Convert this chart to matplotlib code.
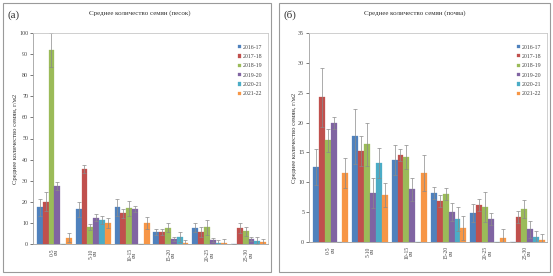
import matplotlib
matplotlib.use("Agg")
import matplotlib.pyplot as plt
import numpy as np
from matplotlib.patches import Rectangle

plt.rcParams['font.family'] = ['Liberation Serif', 'DejaVu Serif']

seasons = ["2016-17", "2017-18", "2018-19", "2019-20", "2020-21", "2021-22"]
colors = ["#4F81BD", "#C0504D", "#9BBB59", "#8064A2", "#4BACC6", "#F79646"]
categories = ["0-5\nсм", "5-10\nсм", "10-15\nсм", "15-20\nсм", "20-25\nсм", "25-30\nсм"]

# Panel (a)
a_2016 = [17.3, 16.5, 17.3, 5.7, 7.8, 0]
a_2017 = [20.1, 35.5, 14.5, 5.7, 5.7, 7.5]
a_2018 = [92.0, 8.0, 17.0, 7.8, 8.0, 6.0]
a_2019 = [27.6, 12.5, 16.7, 2.5, 1.9, 2.3]
a_2020 = [0, 11.5, 0, 3.3, 0.5, 1.6]
a_2021 = [3.0, 10.0, 10.0, 0.7, 0.3, 1.0]
a_err_2016 = [4, 3.5, 4, 1.5, 2, 0]
a_err_2017 = [4.5, 2, 2, 1.5, 2.5, 2.5]
a_err_2018 = [8, 1.5, 3.5, 2, 3.5, 2]
a_err_2019 = [2, 1.5, 1.5, 1, 1, 1]
a_err_2020 = [0, 2, 0, 2.5, 1.5, 1.5]
a_err_2021 = [2, 2.5, 3, 1, 2, 1.5]

# Panel (б)
b_2016 = [12.5, 17.7, 13.7, 8.2, 4.8, 0]
b_2017 = [24.2, 15.3, 14.5, 6.8, 6.2, 4.2]
b_2018 = [17.0, 16.4, 14.3, 8.1, 5.9, 5.6]
b_2019 = [19.9, 8.2, 8.8, 5.0, 3.9, 2.1]
b_2020 = [0, 13.3, 0, 3.9, 0, 0.8]
b_2021 = [11.5, 7.9, 11.5, 2.4, 0.6, 0.3]
b_err_2016 = [3, 4.6, 2.5, 1, 1.5, 0]
b_err_2017 = [5, 2.5, 1, 1, 1, 1]
b_err_2018 = [2, 3.6, 2, 1, 2.5, 1.5]
b_err_2019 = [1, 2.5, 2, 1.5, 1, 1.5]
b_err_2020 = [0, 2.5, 0, 2, 0, 1]
b_err_2021 = [2.5, 2, 3, 2, 1.5, 1]

a_vals = [a_2016, a_2017, a_2018, a_2019, a_2020, a_2021]
a_errs = [a_err_2016, a_err_2017, a_err_2018, a_err_2019, a_err_2020, a_err_2021]
b_vals = [b_2016, b_2017, b_2018, b_2019, b_2020, b_2021]
b_errs = [b_err_2016, b_err_2017, b_err_2018, b_err_2019, b_err_2020, b_err_2021]

fig = plt.figure(figsize=(5.53, 2.76), dpi=100)
W, H = 553, 276

def fx(px):
    return px / W

def fy(py):
    return 1 - py / H

# panel borders
for x0, x1 in [(3, 271), (279, 550)]:
    fig.patches.append(Rectangle((fx(x0), fy(272)), fx(x1) - fx(x0), fy(3) - fy(272),
                                 transform=fig.transFigure, fill=False,
                                 edgecolor="#9a9a9a", linewidth=0.8))

def draw(ax, vals, errs, ymax, ystep, title, letter, lx, tx):
    x = np.arange(len(categories))
    w = 0.15
    for i, (v, e, c, s) in enumerate(zip(vals, errs, colors, seasons)):
        pos = x + (i - 2.5) * w
        ax.bar(pos, v, width=w, color=c, label=s, edgecolor=c, linewidth=0.2,
               yerr=e, error_kw=dict(ecolor="#8a8a8a", elinewidth=0.5, capsize=1.2, capthick=0.5))
    ax.set_xlim(-0.55, 5.5)
    ax.set_ylim(0, ymax)
    ax.set_yticks(np.arange(0, ymax + 0.1, ystep))
    ax.set_xticks(x)
    ax.set_xticklabels(categories, rotation=90, fontsize=4, color="#444444", linespacing=0.9)
    ax.tick_params(axis='y', labelsize=4.3, colors="#444444", length=2, width=0.5, pad=1.5)
    ax.tick_params(axis='x', length=0, pad=3)
    for s in ["top", "right"]:
        ax.spines[s].set_color("#c8c8c8")
        ax.spines[s].set_linewidth(0.6)
    for s in ["left", "bottom"]:
        ax.spines[s].set_color("#a0a0a0")
        ax.spines[s].set_linewidth(0.6)
    ax.set_ylabel("Среднее количество семян, г/м2", fontsize=4.8, color="#333333", labelpad=1)
    leg = ax.legend(loc="upper right", fontsize=4.2, frameon=False, handlelength=0.5,
                    handleheight=0.5, handletextpad=0.3, labelspacing=0.75,
                    bbox_to_anchor=(1.0, 0.97))
    for t in leg.get_texts():
        t.set_color("#444444")
    fig.text(lx, fy(15), letter, fontsize=8, ha="left", va="center", color="#333333")
    fig.text(tx, fy(13), title, fontsize=5, ha="center", va="center", color="#333333")

axL = fig.add_axes([fx(33), fy(244), fx(268) - fx(33), fy(33) - fy(244)])
draw(axL, a_vals, a_errs, 100, 10, "Среднее количество семян (песок)", "(а)", fx(7), fx(140))

axR = fig.add_axes([fx(309), fy(242), fx(547) - fx(309), fy(33) - fy(242)])
draw(axR, b_vals, b_errs, 35, 5, "Среднее количество семян (почва)", "(б)", fx(283), fx(415))

fig.savefig("out.png", dpi=100)
